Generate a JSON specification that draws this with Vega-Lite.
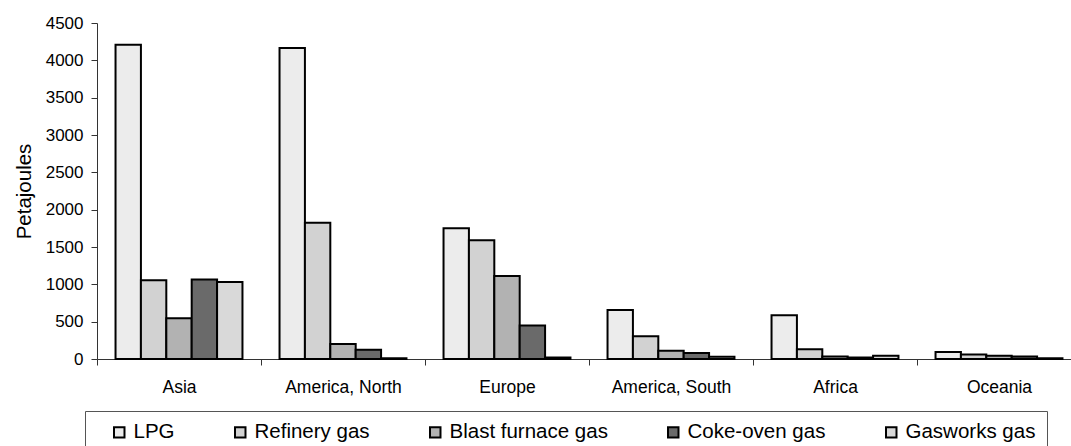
{
  "$schema": "https://vega.github.io/schema/vega-lite/v6.json",
  "autosize": {"type": "none"},
  "padding": {"left": 97, "top": 23, "right": 0, "bottom": 87},
  "width": 974,
  "height": 336,
  "background": "white",
  "config": {
    "font": "Liberation Sans",
    "view": {"stroke": null}
  },
  "data": {
    "values": [
      {"region": "Asia", "fuel": "LPG", "value": 4210},
      {"region": "Asia", "fuel": "Refinery gas", "value": 1055},
      {"region": "Asia", "fuel": "Blast furnace gas", "value": 545},
      {"region": "Asia", "fuel": "Coke-oven gas", "value": 1065},
      {"region": "Asia", "fuel": "Gasworks gas", "value": 1030},
      {"region": "America, North", "fuel": "LPG", "value": 4165},
      {"region": "America, North", "fuel": "Refinery gas", "value": 1825},
      {"region": "America, North", "fuel": "Blast furnace gas", "value": 200},
      {"region": "America, North", "fuel": "Coke-oven gas", "value": 125},
      {"region": "America, North", "fuel": "Gasworks gas", "value": 10},
      {"region": "Europe", "fuel": "LPG", "value": 1750},
      {"region": "Europe", "fuel": "Refinery gas", "value": 1590},
      {"region": "Europe", "fuel": "Blast furnace gas", "value": 1110},
      {"region": "Europe", "fuel": "Coke-oven gas", "value": 450},
      {"region": "Europe", "fuel": "Gasworks gas", "value": 20},
      {"region": "America, South", "fuel": "LPG", "value": 655},
      {"region": "America, South", "fuel": "Refinery gas", "value": 305},
      {"region": "America, South", "fuel": "Blast furnace gas", "value": 110},
      {"region": "America, South", "fuel": "Coke-oven gas", "value": 82},
      {"region": "America, South", "fuel": "Gasworks gas", "value": 30},
      {"region": "Africa", "fuel": "LPG", "value": 585},
      {"region": "Africa", "fuel": "Refinery gas", "value": 130},
      {"region": "Africa", "fuel": "Blast furnace gas", "value": 35},
      {"region": "Africa", "fuel": "Coke-oven gas", "value": 20},
      {"region": "Africa", "fuel": "Gasworks gas", "value": 42},
      {"region": "Oceania", "fuel": "LPG", "value": 95},
      {"region": "Oceania", "fuel": "Refinery gas", "value": 60},
      {"region": "Oceania", "fuel": "Blast furnace gas", "value": 42},
      {"region": "Oceania", "fuel": "Coke-oven gas", "value": 32},
      {"region": "Oceania", "fuel": "Gasworks gas", "value": 10}
    ]
  },
  "mark": {"type": "bar", "stroke": "#000000", "strokeWidth": 2},
  "encoding": {
    "x": {
      "field": "region",
      "type": "nominal",
      "sort": null,
      "scale": {"range": [0, 984], "paddingInner": 0, "paddingOuter": 0},
      "axis": {
        "title": null,
        "labelAngle": 0,
        "labelFontSize": 17.5,
        "labelColor": "#000000",
        "labelPadding": 13,
        "tickBand": "extent",
        "tickSize": 6,
        "tickColor": "#333333",
        "domainColor": "#333333"
      }
    },
    "xOffset": {
      "field": "fuel",
      "type": "nominal",
      "sort": ["LPG", "Refinery gas", "Blast furnace gas", "Coke-oven gas", "Gasworks gas"],
      "scale": {"paddingInner": 0, "paddingOuter": 0.73}
    },
    "y": {
      "field": "value",
      "type": "quantitative",
      "scale": {"domain": [0, 4500], "nice": false},
      "axis": {
        "title": "Petajoules",
        "titleFontSize": 20.5,
        "titleFontWeight": "normal",
        "titleColor": "#000000",
        "titlePadding": 11,
        "values": [0, 500, 1000, 1500, 2000, 2500, 3000, 3500, 4000, 4500],
        "format": "d",
        "labelFontSize": 17,
        "labelColor": "#000000",
        "labelPadding": 8,
        "tickSize": 6,
        "tickColor": "#333333",
        "domainColor": "#333333",
        "grid": false
      }
    },
    "fill": {
      "field": "fuel",
      "type": "nominal",
      "sort": ["LPG", "Refinery gas", "Blast furnace gas", "Coke-oven gas", "Gasworks gas"],
      "scale": {
        "domain": ["LPG", "Refinery gas", "Blast furnace gas", "Coke-oven gas", "Gasworks gas"],
        "range": ["#ececec", "#d2d2d2", "#b2b2b2", "#6a6a6a", "#d9d9d9"]
      },
      "legend": {
        "orient": "none",
        "legendX": -12,
        "legendY": 388,
        "direction": "horizontal",
        "title": " ",
        "titleOrient": "left",
        "titleFontSize": 20,
        "titlePadding": 13,
        "padding": 11,
        "strokeColor": "#555555",
        "fillColor": "#ffffff",
        "symbolType": "square",
        "symbolSize": 110,
        "symbolStrokeColor": "#000000",
        "symbolStrokeWidth": 2,
        "symbolOpacity": 1,
        "labelFontSize": 20.5,
        "labelColor": "#000000",
        "labelOffset": 4,
        "labelLimit": 400,
        "columnPadding": 55,
        "labelExpr": "datum.label == 'Gasworks gas' ? 'Gasworks gas       ' : datum.label"
      }
    }
  }
}
